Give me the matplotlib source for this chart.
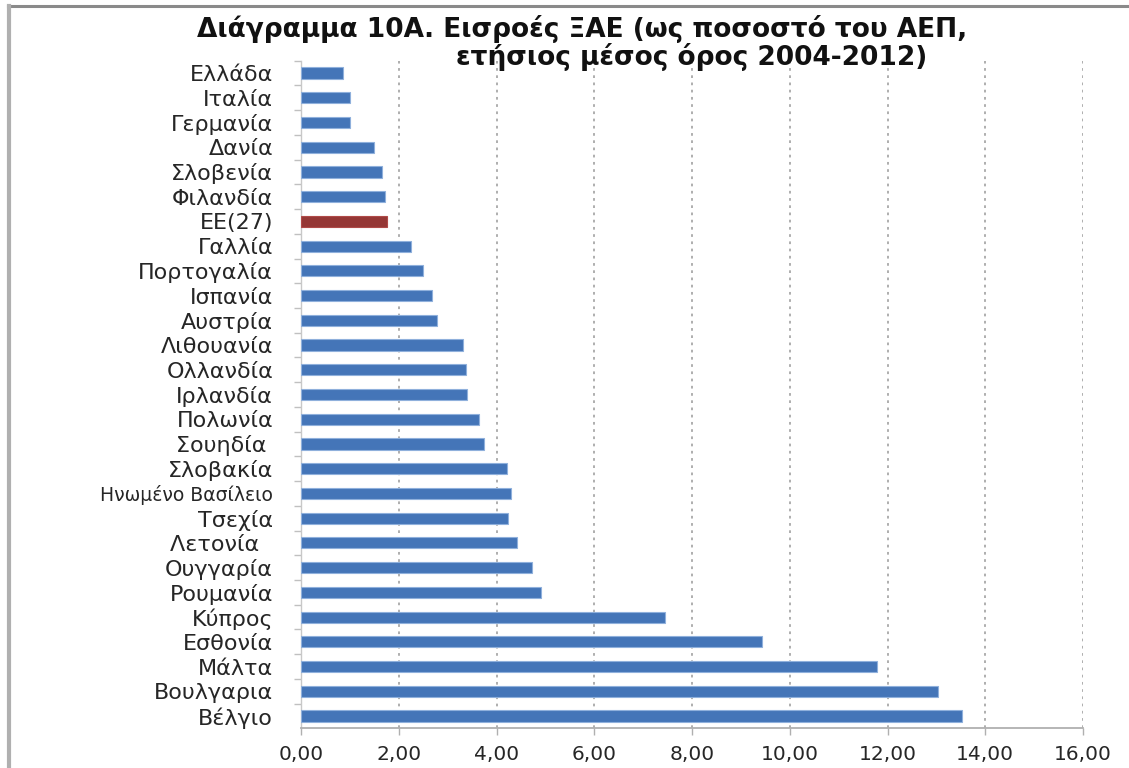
import matplotlib
matplotlib.use("Agg")
import matplotlib.pyplot as plt
from matplotlib.lines import Line2D

plt.rcParams['font.family'] = ['DejaVu Sans']

# FDI inflows, % of GDP, annual average 2004-2012
countries = ["Ελλάδα", "Ιταλία", "Γερμανία", "Δανία", "Σλοβενία", "Φιλανδία",
             "ΕΕ(27)", "Γαλλία", "Πορτογαλία", "Ισπανία", "Αυστρία", "Λιθουανία",
             "Ολλανδία", "Ιρλανδία", "Πολωνία", "Σουηδία ", "Σλοβακία",
             "Ηνωμένο Βασίλειο", "Τσεχία", "Λετονία  ", "Ουγγαρία", "Ρουμανία",
             "Κύπρος", "Εσθονία", "Μάλτα", "Βουλγαρια", "Βέλγιο"]
values = [0.86, 1.00, 1.00, 1.49, 1.66, 1.72,
          1.76, 2.25, 2.49, 2.68, 2.78, 3.31,
          3.37, 3.39, 3.64, 3.74, 4.21,
          4.29, 4.23, 4.42, 4.72, 4.91,
          7.44, 9.43, 11.78, 13.03, 13.52]
xticks = [0, 2, 4, 6, 8, 10, 12, 14, 16]
xticklabels = ["0,00", "2,00", "4,00", "6,00", "8,00", "10,00", "12,00", "14,00", "16,00"]

title_1 = "Διάγραμμα 10Α. Εισροές ΞΑΕ (ως ποσοστό του ΑΕΠ,"
title_2 = "ετήσιος μέσος όρος 2004-2012)"

fig = plt.figure(figsize=(11.29, 7.68), dpi=100)
ax = fig.add_axes([0.2666, 0.0516, 0.6927, 0.8694])

colors = ['#953735' if c.startswith("ΕΕ") else '#4475b8' for c in countries]
ypos = list(range(len(countries)))
bars = ax.barh(ypos, values, height=0.45, color=colors, edgecolor='#8fb0dc',
               linewidth=0.8, zorder=3)
bars[countries.index("ΕΕ(27)")].set_edgecolor('#b04a48')

ax.set_ylim(len(countries) - 0.5, -0.5)
ax.set_xlim(0, 16)

ax.set_yticks(ypos)
ax.set_yticklabels(countries, fontsize=16, color='#262626')
# the long label is set tighter
ax.get_yticklabels()[countries.index("Ηνωμένο Βασίλειο")].set_fontsize(13.5)
ax.set_xticks(xticks)
ax.set_xticklabels(xticklabels, fontsize=14.5, color='#262626')

# small tick marks between categories on the y axis
ax.set_yticks([y + 0.5 for y in ypos[:-1]] + [-0.5], minor=True)
ax.tick_params(axis='y', which='major', length=0, pad=20)
ax.tick_params(axis='y', which='minor', length=5, color='#c0c0c0', width=1)
ax.tick_params(axis='x', length=5, color='#b0b0b0', width=1, pad=7)

ax.grid(axis='x', linestyle=(0, (1.5, 2.5)), color='#a8a8a8', linewidth=1.3, zorder=0)
ax.xaxis.get_gridlines()[0].set_visible(False)

for side in ['top', 'right']:
    ax.spines[side].set_visible(False)
ax.spines['left'].set_color('#c8c8c8')
ax.spines['bottom'].set_color('#b0b0b0')
ax.spines['left'].set_linewidth(1)
ax.spines['bottom'].set_linewidth(1.3)

fig.text(0.516, 0.962, title_1, ha='center', va='center', fontsize=19,
         fontweight='bold', color='#111111')
fig.text(0.613, 0.926, title_2, ha='center', va='center', fontsize=19,
         fontweight='bold', color='#111111')

# gray frame along top and left edges
fig.add_artist(Line2D([0.007, 1.0], [0.992, 0.992], color='#8a8a8a', linewidth=2.2,
                      transform=fig.transFigure))
fig.add_artist(Line2D([0.008, 0.008], [0.0, 0.992], color='#b0b0b0', linewidth=3,
                      transform=fig.transFigure))

fig.savefig("out.png", dpi=100)
